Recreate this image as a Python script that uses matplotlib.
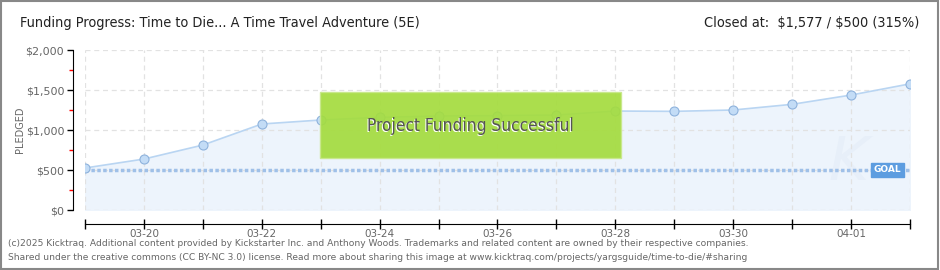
import matplotlib.pyplot as plt
from matplotlib.patches import Rectangle
from matplotlib.ticker import MultipleLocator, FuncFormatter
import numpy as np

# dados
dates = ['03-19', '03-20', '03-21', '03-22', '03-23', '03-24', '03-25', '03-26',
         '03-27', '03-28', '03-29', '03-30', '03-31', '04-01', '04-02']
pledged = [525, 637, 812, 1075, 1125, 1158, 1175, 1180, 1187, 1237, 1233, 1250, 1321, 1437, 1577]
goal = 500
title = 'Funding Progress: Time to Die... A Time Travel Adventure (5E)'
closed_text = r'Closed at:  \$1,577 / \$500 (315%)'
footer = ['(c)2025 Kicktraq. Additional content provided by Kickstarter Inc. and Anthony Woods. Trademarks and related content are owned by their respective companies.',
          'Shared under the creative commons (CC BY-NC 3.0) license. Read more about sharing this image at www.kicktraq.com/projects/yargsguide/time-to-die/#sharing']

W, H = 940, 270
fig = plt.figure(figsize=(W / 100, H / 100), dpi=100)
ax = fig.add_axes([85 / W, 1 - 210 / H, (910 - 85) / W, 160 / H])

x = np.arange(len(dates))

# area + linha
ax.fill_between(x, pledged, 0, color='#edf4fc', zorder=1)
ax.plot(x, pledged, color='#b9d5f2', lw=1.2, zorder=3)
ax.plot(x, pledged, 'o', ms=6.5, mfc='#c3dcf6', mec='#8eb2dc', mew=0.8, zorder=4)

# linha da meta
ax.axhline(goal, color='#9fc0e8', lw=2.5, ls=(0, (1, 0.7)), zorder=2)

ax.set_xlim(0, len(dates) - 1)
ax.set_ylim(0, 2000)

# grade
ax.set_xticks(x)
ax.set_xticklabels([d if i % 2 == 1 else '' for i, d in enumerate(dates)])
ax.yaxis.set_major_locator(MultipleLocator(500))
ax.yaxis.set_minor_locator(MultipleLocator(250))
ax.yaxis.set_major_formatter(FuncFormatter(lambda v, p: r'\$' + f'{int(v):,}'))
ax.grid(True, which='major', color='#e2e2e2', ls=(0, (4, 3)), lw=0.9, zorder=0)

for s in ['top', 'right']:
    ax.spines[s].set_visible(False)
ax.spines['left'].set_position(('outward', 9))
ax.spines['bottom'].set_position(('outward', 10))
ax.spines['left'].set_bounds(0, 2000)
ax.tick_params(axis='y', which='major', length=4, width=1, color='black',
               labelsize=8, labelcolor='#666666', pad=2)
ax.tick_params(axis='y', which='minor', length=3, width=1, color='red')
ax.tick_params(axis='x', which='major', direction='inout', length=7, width=1,
               labelsize=7.5, labelcolor='#666666', pad=0)
fig.text(20 / W, 1 - 130 / H, 'PLEDGED', fontsize=7, color='#666666',
         rotation=90, ha='center', va='center')

# caixa "Project Funding Successful"
fig.patches.append(Rectangle((320 / W, 1 - 158 / H), 301 / W, 66 / H,
                             transform=fig.transFigure, facecolor='#a4dc3e',
                             edgecolor='#c8e88a', alpha=0.92, zorder=5))
fig.text(469 / W, 1 - 127.5 / H, 'Project Funding Successful', fontsize=12.4,
         color='white', ha='center', va='center', zorder=6, stretch='condensed')
fig.text(470 / W, 1 - 126 / H, 'Project Funding Successful', fontsize=12.4,
         color='#555555', ha='center', va='center', zorder=7, stretch='condensed')

# rotulo GOAL
ax.text(0.973, goal, 'GOAL', transform=ax.get_yaxis_transform(), fontsize=6.5,
        color='white', ha='center', va='center', fontweight='bold', zorder=6,
        bbox=dict(boxstyle='square,pad=0.3', fc='#5d9de0', ec='#5d9de0'))

# marca d'agua
ax.text(0.925, 580, 'K', transform=ax.get_yaxis_transform(), fontsize=44,
        color='#e7eff9', ha='center', va='center', style='italic', zorder=1.5)

# titulo
fig.text(20 / W, 1 - 23 / H, title, fontsize=10.4, color='#222222', va='center',
         stretch='condensed')
fig.text(919 / W, 1 - 23 / H, closed_text, fontsize=10.4, color='#222222', va='center',
         ha='right', stretch='condensed')

# rodape
fig.text(8 / W, 1 - 244 / H, footer[0], fontsize=6.6, color='#666666', va='center')
fig.text(8 / W, 1 - 257 / H, footer[1], fontsize=6.6, color='#666666', va='center')

# borda
fig.patches.append(Rectangle((0.001, 0.002), 0.997, 0.995, transform=fig.transFigure,
                             fill=False, edgecolor='#888888', lw=1.5))

fig.savefig('out.png', dpi=100)
